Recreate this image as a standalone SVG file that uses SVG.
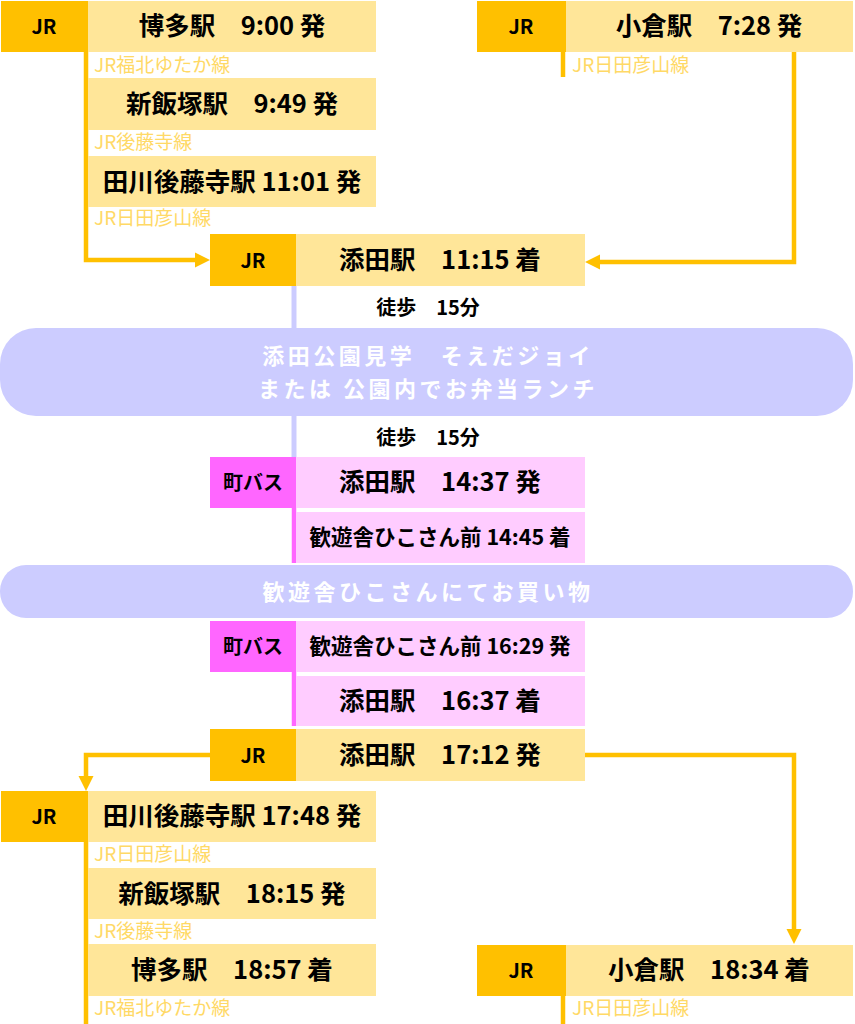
<svg xmlns="http://www.w3.org/2000/svg" width="855" height="1024" viewBox="0 0 855 1024">
<style>
.jr{fill:#FFC000}
.lt{fill:#FFE699}
.bus{fill:#FF66FF}
.pk{fill:#FFCCFF}
.lav{fill:#CCCCFF}
text{font-family:"Noto Sans CJK JP","Noto Sans",sans-serif}
.t{font-size:25.5px;font-weight:bold;fill:#000;text-anchor:middle}
.ts{font-size:21.5px;font-weight:bold;fill:#000;text-anchor:middle}
.tag{font-size:20px;font-weight:bold;fill:#000;text-anchor:middle}
.ln{font-size:19px;fill:#FFD966}
.w{font-size:20px;font-weight:bold;fill:#000;text-anchor:middle}
.wt{font-size:22px;font-weight:bold;fill:#fff;text-anchor:middle;letter-spacing:3.5px}
.cy{stroke:#FFC000;stroke-width:4.5;fill:none}
.cl{stroke:#CCCCFF;stroke-width:5;fill:none}
.cm{stroke:#FF66FF;stroke-width:4.5;fill:none}
.ah{fill:#FFC000}
</style>
<rect width="855" height="1024" fill="#fff"/>
<g id="connectors">
<path class="cy" d="M86,52 V260 H197"/>
<polygon class="ah" points="210,260 195,252.5 195,267.5"/>
<path class="cy" d="M563,52 V77"/>
<path class="cy" d="M794,52 V262 H598"/>
<polygon class="ah" points="585,262 600,254.5 600,269.5"/>
<path class="cl" d="M294,286 V330"/>
<path class="cl" d="M294,414 V458"/>
<path class="cm" d="M294,508 V563"/>
<path class="cm" d="M294,672 V726"/>
<path class="cy" d="M210,755 H86 V778"/>
<polygon class="ah" points="86,791 78.5,776 93.5,776"/>
<path class="cy" d="M585,755 H794 V930"/>
<polygon class="ah" points="794,944 786.5,929 801.5,929"/>
<path class="cy" d="M86,842 V1024"/>
<path class="cy" d="M563,996 V1024"/>
</g>
<g id="n-hakata-dep">
<rect class="jr" x="1" y="1" width="87" height="51"/>
<text class="tag" x="44" y="34">JR</text>
<rect class="lt" x="88" y="1" width="288" height="51"/>
<text class="t" x="232" y="35">博多駅　9:00 発</text>
<text class="ln" x="94" y="72">JR福北ゆたか線</text>
</g>
<g id="n-shiniizuka-dep">
<rect class="lt" x="88" y="78" width="288" height="52"/>
<text class="t" x="232" y="113">新飯塚駅　9:49 発</text>
<text class="ln" x="94" y="149">JR後藤寺線</text>
</g>
<g id="n-tagawa-dep">
<rect class="lt" x="88" y="156" width="288" height="51"/>
<text class="t" x="232" y="191">田川後藤寺駅 11:01 発</text>
<text class="ln" x="94" y="225">JR日田彦山線</text>
</g>
<g id="n-kokura-dep">
<rect class="jr" x="477" y="1" width="89" height="51"/>
<text class="tag" x="521" y="34">JR</text>
<rect class="lt" x="566" y="1" width="287" height="51"/>
<text class="t" x="709" y="35">小倉駅　7:28 発</text>
<text class="ln" x="572" y="72">JR日田彦山線</text>
</g>
<g id="n-soeda-arr">
<rect class="jr" x="210" y="234" width="86" height="52"/>
<text class="tag" x="253" y="268">JR</text>
<rect class="lt" x="296" y="234" width="289" height="52"/>
<text class="t" x="440" y="269">添田駅　11:15 着</text>
</g>
<g id="walk1">
<text class="w" x="428" y="315">徒歩　15分</text>
</g>
<g id="n-park">
<rect class="lav" x="0" y="328" width="853" height="88" rx="36"/>
<text class="wt" x="428" y="364">添田公園見学　そえだジョイ</text>
<text class="wt" x="428" y="397">または 公園内でお弁当ランチ</text>
</g>
<g id="walk2">
<text class="w" x="428" y="445">徒歩　15分</text>
</g>
<g id="n-bus1">
<rect class="bus" x="210" y="457" width="86" height="51"/>
<text class="tag" x="253" y="490">町バス</text>
<rect class="pk" x="296" y="457" width="289" height="51"/>
<text class="t" x="440" y="491">添田駅　14:37 発</text>
<rect class="pk" x="296" y="512" width="289" height="51"/>
<text class="ts" x="440" y="545">歓遊舎ひこさん前 14:45 着</text>
</g>
<g id="n-shop">
<rect class="lav" x="0" y="565" width="853" height="53" rx="26"/>
<text class="wt" x="428" y="600">歓遊舎ひこさんにてお買い物</text>
</g>
<g id="n-bus2">
<rect class="bus" x="210" y="621" width="86" height="51"/>
<text class="tag" x="253" y="654">町バス</text>
<rect class="pk" x="296" y="621" width="289" height="51"/>
<text class="ts" x="440" y="654">歓遊舎ひこさん前 16:29 発</text>
<rect class="pk" x="296" y="676" width="289" height="50"/>
<text class="t" x="440" y="710">添田駅　16:37 着</text>
</g>
<g id="n-soeda-dep">
<rect class="jr" x="210" y="729" width="86" height="52"/>
<text class="tag" x="253" y="763">JR</text>
<rect class="lt" x="296" y="729" width="289" height="52"/>
<text class="t" x="440" y="764">添田駅　17:12 発</text>
</g>
<g id="n-tagawa-arr">
<rect class="jr" x="1" y="791" width="87" height="51"/>
<text class="tag" x="44" y="824">JR</text>
<rect class="lt" x="88" y="791" width="288" height="51"/>
<text class="t" x="232" y="825">田川後藤寺駅 17:48 発</text>
<text class="ln" x="94" y="861">JR日田彦山線</text>
</g>
<g id="n-shiniizuka-arr">
<rect class="lt" x="88" y="868" width="288" height="51"/>
<text class="t" x="232" y="903">新飯塚駅　18:15 発</text>
<text class="ln" x="94" y="938">JR後藤寺線</text>
</g>
<g id="n-hakata-arr">
<rect class="lt" x="88" y="944" width="288" height="52"/>
<text class="t" x="232" y="979">博多駅　18:57 着</text>
<text class="ln" x="94" y="1015">JR福北ゆたか線</text>
</g>
<g id="n-kokura-arr">
<rect class="jr" x="477" y="945" width="89" height="51"/>
<text class="tag" x="521" y="978">JR</text>
<rect class="lt" x="566" y="945" width="287" height="51"/>
<text class="t" x="709" y="979">小倉駅　18:34 着</text>
<text class="ln" x="572" y="1015">JR日田彦山線</text>
</g>
</svg>
